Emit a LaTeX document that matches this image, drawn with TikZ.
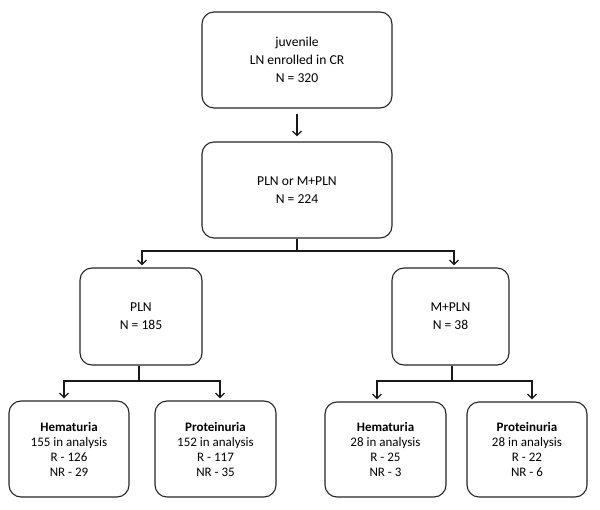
\documentclass[tikz,border=0pt]{standalone}
\usepackage{fontspec}
\setmainfont{Carlito}
\usetikzlibrary{arrows.meta}
\begin{document}
\begin{tikzpicture}[x=1pt,y=-1pt,
  box/.style={draw=black!85,line width=1.1pt,rounded corners=12pt,align=center,inner sep=0pt},
  topbox/.style={box,font=\fontsize{13.6}{18}\selectfont},
  botbox/.style={box,font=\fontsize{13}{15}\selectfont},
  conn/.style={draw=black!90,line width=1.1pt},
  arr/.style={conn,-{Straight Barb[length=4.5pt,width=9pt,line width=1.3pt]},shorten >=2pt}]
\useasboundingbox[fill=white] (0,0) rectangle (600,510);
\node[topbox,minimum width=190pt,minimum height=96pt] (top) at (297,60) {juvenile\\LN enrolled in CR\\N = 320};
\node[topbox,minimum width=190pt,minimum height=96pt] (mid) at (297,190) {PLN or M+PLN\\N = 224};
\node[topbox,minimum width=122pt,minimum height=97pt] (pln) at (141,316.5) {PLN\\N = 185};
\node[topbox,minimum width=117pt,minimum height=97pt] (mpln) at (450.5,316.5) {M+PLN\\N = 38};
\node[botbox,minimum width=120pt,minimum height=96pt] (h1) at (69,449) {\textbf{Hematuria}\\155 in analysis\\R - 126\\NR - 29};
\node[botbox,minimum width=121pt,minimum height=96pt] (p1) at (215.5,449) {\textbf{Proteinuria}\\152 in analysis\\R - 117\\NR - 35};
\node[botbox,minimum width=121pt,minimum height=95pt] (h2) at (385.5,449.5) {\textbf{Hematuria}\\28 in analysis\\R - 25\\NR - 3};
\node[botbox,minimum width=120pt,minimum height=95pt] (p2) at (527,449.5) {\textbf{Proteinuria}\\28 in analysis\\R - 22\\NR - 6};
% connectors
\draw[arr,shorten <=5pt,shorten >=5pt] (top.south) -- (mid.north);
\coordinate (j0) at (297,251);
\draw[conn] (mid.south) -- (j0);
\draw[arr] (j0) -| ([xshift=1pt]pln.north);
\draw[arr] (j0) -| ([xshift=3.5pt]mpln.north);
\coordinate (j1) at (139,381);
\draw[conn] (pln.south -| j1) -- (j1);
\draw[arr] (j1) -| ([xshift=-5pt]h1.north);
\draw[arr] (j1) -| ([xshift=4.5pt]p1.north);
\coordinate (j2) at (452,381);
\draw[conn] (mpln.south -| j2) -- (j2);
\draw[arr] (j2) -| ([xshift=-8.5pt]h2.north);
\draw[arr] (j2) -| ([xshift=5pt]p2.north);
\end{tikzpicture}
\end{document}
